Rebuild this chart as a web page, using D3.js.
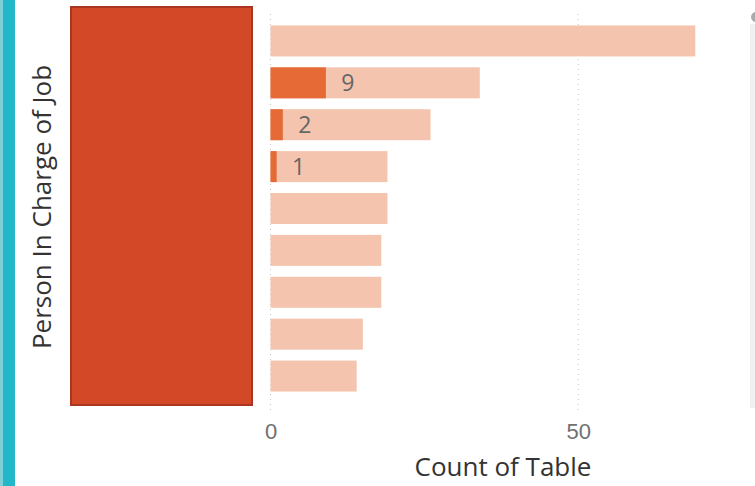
<!DOCTYPE html>
<html>
<head>
<meta charset="utf-8">
<script src="https://cdn.jsdelivr.net/npm/d3@7"></script>
<style>
  body { margin: 0; background: #fff; }
  svg { display: block; font-family: "Segoe UI", "Open Sans", sans-serif; }
</style>
</head>
<body>
<script>
// one row per person (names hidden behind the red block in the original)
const people = ['p1', 'p2', 'p3', 'p4', 'p5', 'p6', 'p7', 'p8', 'p9']
const totals = [69, 34, 26, 19, 19, 18, 18, 15, 14]
const highlighted = [0, 9, 2, 1, 0, 0, 0, 0, 0]
const xTicks = [0, 50]

const width = 755
const height = 486

const svg = d3.select('body')
    .append('svg')
    .attr('width', width)
    .attr('height', height)

// teal accent strip on the left
svg.append('rect').attr('x', 0).attr('y', 0).attr('width', 15).attr('height', height).attr('fill', '#22b7c9')
svg.append('rect').attr('x', 0).attr('y', 0).attr('width', 3).attr('height', height).attr('fill', '#7fcfd8')

const xScale = d3.scaleLinear()
    .domain([0, 50])
    .range([270.5, 578.3])
const yScale = d3.scaleBand()
    .domain(people)
    .range([20, 397])
    .paddingInner(0.26)
    .paddingOuter(0.13)

// dotted gridlines
svg.selectAll('line.grid')
    .data(xTicks)
    .enter()
    .append('line')
    .attr('class', 'grid')
    .attr('x1', d => xScale(d))
    .attr('x2', d => xScale(d))
    .attr('y1', 14)
    .attr('y2', 411)
    .attr('stroke', '#c8c8c8')
    .attr('stroke-width', 1)
    .attr('stroke-dasharray', '1,4')

const rows = people.map((p, i) => ({ p, total: totals[i], hi: highlighted[i] }))

svg.selectAll('rect.total')
    .data(rows)
    .enter()
    .append('rect')
    .attr('class', 'total')
    .attr('x', xScale(0))
    .attr('y', d => yScale(d.p))
    .attr('width', d => xScale(d.total) - xScale(0))
    .attr('height', yScale.bandwidth())
    .attr('fill', '#f4c4ae')

svg.selectAll('rect.hi')
    .data(rows.filter(d => d.hi > 0))
    .enter()
    .append('rect')
    .attr('class', 'hi')
    .attr('x', xScale(0))
    .attr('y', d => yScale(d.p))
    .attr('width', d => xScale(d.hi) - xScale(0))
    .attr('height', yScale.bandwidth())
    .attr('fill', '#e56a35')

svg.selectAll('text.val')
    .data(rows.filter(d => d.hi > 0))
    .enter()
    .append('text')
    .attr('class', 'val')
    .text(d => d.hi)
    .attr('x', d => xScale(d.hi) + 22)
    .attr('y', d => yScale(d.p) + yScale.bandwidth() / 2 + 8.5)
    .attr('text-anchor', 'middle')
    .attr('fill', '#666')
    .style('font-size', '23px')

// block covering the category labels
svg.append('rect')
    .attr('x', 71).attr('y', 7)
    .attr('width', 181).attr('height', 398)
    .attr('fill', '#d34827')
    .attr('stroke', '#a93620')
    .attr('stroke-width', 2)

// x axis
const xAxis = d3.axisBottom(xScale).tickValues(xTicks).tickSize(0).tickPadding(0)
const gx = svg.append('g')
    .attr('transform', 'translate(0, 439)')
    .call(xAxis)
gx.select('.domain').remove()
gx.selectAll('text')
    .attr('fill', '#707070')
    .style('font-size', '22px')
    .attr('y', 0)
    .attr('dy', 0)

svg.append('text')
    .text('Count of Table')
    .attr('x', 503)
    .attr('y', 476)
    .attr('text-anchor', 'middle')
    .attr('fill', '#333')
    .style('font-size', '26px')

svg.append('text')
    .text('Person In Charge of Job')
    .attr('transform', 'translate(51, 207) rotate(-90)')
    .attr('text-anchor', 'middle')
    .attr('fill', '#333')
    .style('font-size', '26px')

// scrollbar remnant on the right edge
svg.append('rect').attr('x', 750).attr('y', 24).attr('width', 5).attr('height', 384).attr('fill', '#f0f0f0')
svg.append('circle').attr('cx', 756).attr('cy', 17).attr('r', 5).attr('fill', '#aaa')
</script>
</body>
</html>
